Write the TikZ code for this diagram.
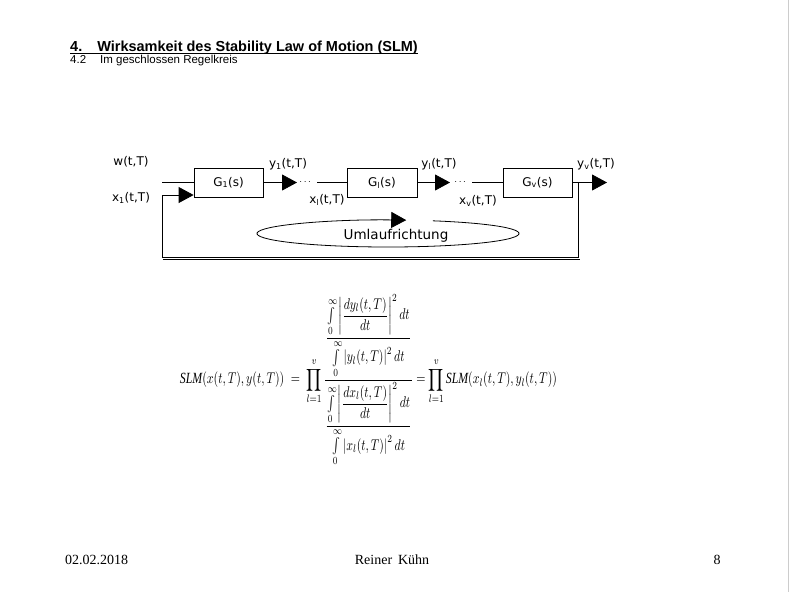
\documentclass[tikz,border=0pt]{standalone}
\usepackage{fontspec}
\usepackage{graphicx}
\usepackage{amsmath}
\setmainfont{Liberation Serif}
\newfontfamily\arialfont{Liberation Sans}
\newfontfamily\labelfont{DejaVu Sans}
\usetikzlibrary{arrows.meta,calc,positioning}
\tikzset{
  block/.style={draw,line width=0.8pt,minimum width=69pt,minimum height=29pt,inner sep=0pt,font=\labelfont\fontsize{12}{12}\selectfont},
  sig/.style={line width=0.8pt,-{Triangle[length=15pt,width=16pt]}},
  wire/.style={line width=0.8pt},
  lab/.style={inner sep=0pt,font=\labelfont\fontsize{12}{12}\selectfont},
  dotsnode/.style={inner sep=0pt,font=\fontsize{10}{10}\selectfont}
}
\begin{document}
\begin{tikzpicture}[x=1pt,y=-1pt]
\fill[white] (0,0) rectangle (789,592);
\useasboundingbox (0,0) rectangle (789,592);
\draw[gray!40,line width=1pt] (788,0) -- (788,592);
% Kopfzeile
\node[anchor=base west,inner sep=0pt,font=\arialfont\bfseries\fontsize{14.5}{14.5}\selectfont] (titel) at (70,51.5) {4.\hspace{15pt}Wirksamkeit des Stability Law of Motion (SLM)};
\draw[line width=0.9pt] ($(titel.base west)+(0,1.6)$) -- ($(titel.base east)+(0,1.6)$);
\node[anchor=base west,inner sep=0pt,font=\arialfont\fontsize{11.5}{11.5}\selectfont] (untertitel) at (70,63) {\makebox[30pt][l]{4.2}Im geschlossen Regelkreis};
% Regelkreis
\node[block] (g1) at (228.5,182.5) {G\textsubscript{1}(s)};
\node[block,minimum width=70pt] (gl) at (382,182.5) {G\textsubscript{l}(s)};
\node[block] (gv) at (537.5,182.5) {G\textsubscript{v}(s)};
\node[dotsnode] (d1) at (306,182.5) {$\cdots$};
\node[dotsnode] (d2) at (461,182.5) {$\cdots$};
\coordinate (w) at (162,182.5);
\coordinate (y1) at (297,182.5);
\coordinate (xl) at (317,182.5);
\coordinate (yl) at (450,182.5);
\coordinate (xv) at (472,182.5);
\coordinate (yv) at (607,182.5);
\coordinate (ab) at (578,182.5);
\coordinate (ru) at (578,257);
\coordinate (lu) at (162,257);
\coordinate (lo) at (162,195);
\coordinate (x1) at (g1.west |- lo);
\draw[wire] (w) -- (w -| g1.west);
\draw[sig] (g1.east) -- (y1);
\draw[wire] (xl) -- (gl.west);
\draw[sig] (gl.east) -- (yl);
\draw[wire] (xv) -- (gv.west);
\draw[sig] (gv.east) -- (yv);
\draw[sig] (ab) -- (ru) -- (lu) -- (lo) -- (x1);
\draw[wire] ($(lu)+(1,2.5)$) coordinate (lu2) -- ($(ru)+(2,2.5)$) coordinate (ru2);
% Umlaufrichtung
\coordinate (mitte) at (388,233.5);
\draw[sig] ($(mitte)+(-70:131 and 13.5)$) arc[start angle=-70,end angle=278,x radius=131,y radius=13.5];
\node[lab,font=\labelfont\fontsize{13.5}{13.5}\selectfont] (um) at (396,236) {Umlaufrichtung};
% Beschriftungen
\node[lab] (lw) at (131,162) {w(t,T)};
\node[lab] (lx1) at (131,198) {x\textsubscript{1}(t,T)};
\node[lab] (ly1) at (288,164) {y\textsubscript{1}(t,T)};
\node[lab] (lxl) at (327,200) {x\textsubscript{l}(t,T)};
\node[lab] (lyl) at (439,164) {y\textsubscript{l}(t,T)};
\node[lab] (lxv) at (478,201) {x\textsubscript{v}(t,T)};
\node[lab] (lyv) at (596,164) {y\textsubscript{v}(t,T)};
% Formel
\node[inner sep=0pt] (slm) at (368.5,380) {\resizebox*{377pt}{172pt}{$\displaystyle
 \mathit{SLM}(x(t,T),y(t,T)) \;=\; \prod_{l=1}^{v}
 \frac{\dfrac{\int\limits_0^\infty \left|\dfrac{dy_l(t,T)}{dt}\right|^2 dt}{\int\limits_0^\infty \left|y_l(t,T)\right|^2 dt}}
      {\dfrac{\int\limits_0^\infty \left|\dfrac{dx_l(t,T)}{dt}\right|^2 dt}{\int\limits_0^\infty \left|x_l(t,T)\right|^2 dt}}
 = \prod_{l=1}^{v} \mathit{SLM}(x_l(t,T),y_l(t,T))$}};
% Fusszeile
\node[inner sep=0pt,font=\fontsize{14}{14}\selectfont,anchor=west] (datum) at (65,560) {02.02.2018};
\node[inner sep=0pt,font=\fontsize{14}{14}\selectfont] (autor) at (392,560) {Reiner\, Kühn};
\node[inner sep=0pt,font=\fontsize{14}{14}\selectfont] (seite) at (717,560) {8};
\end{tikzpicture}
\end{document}
